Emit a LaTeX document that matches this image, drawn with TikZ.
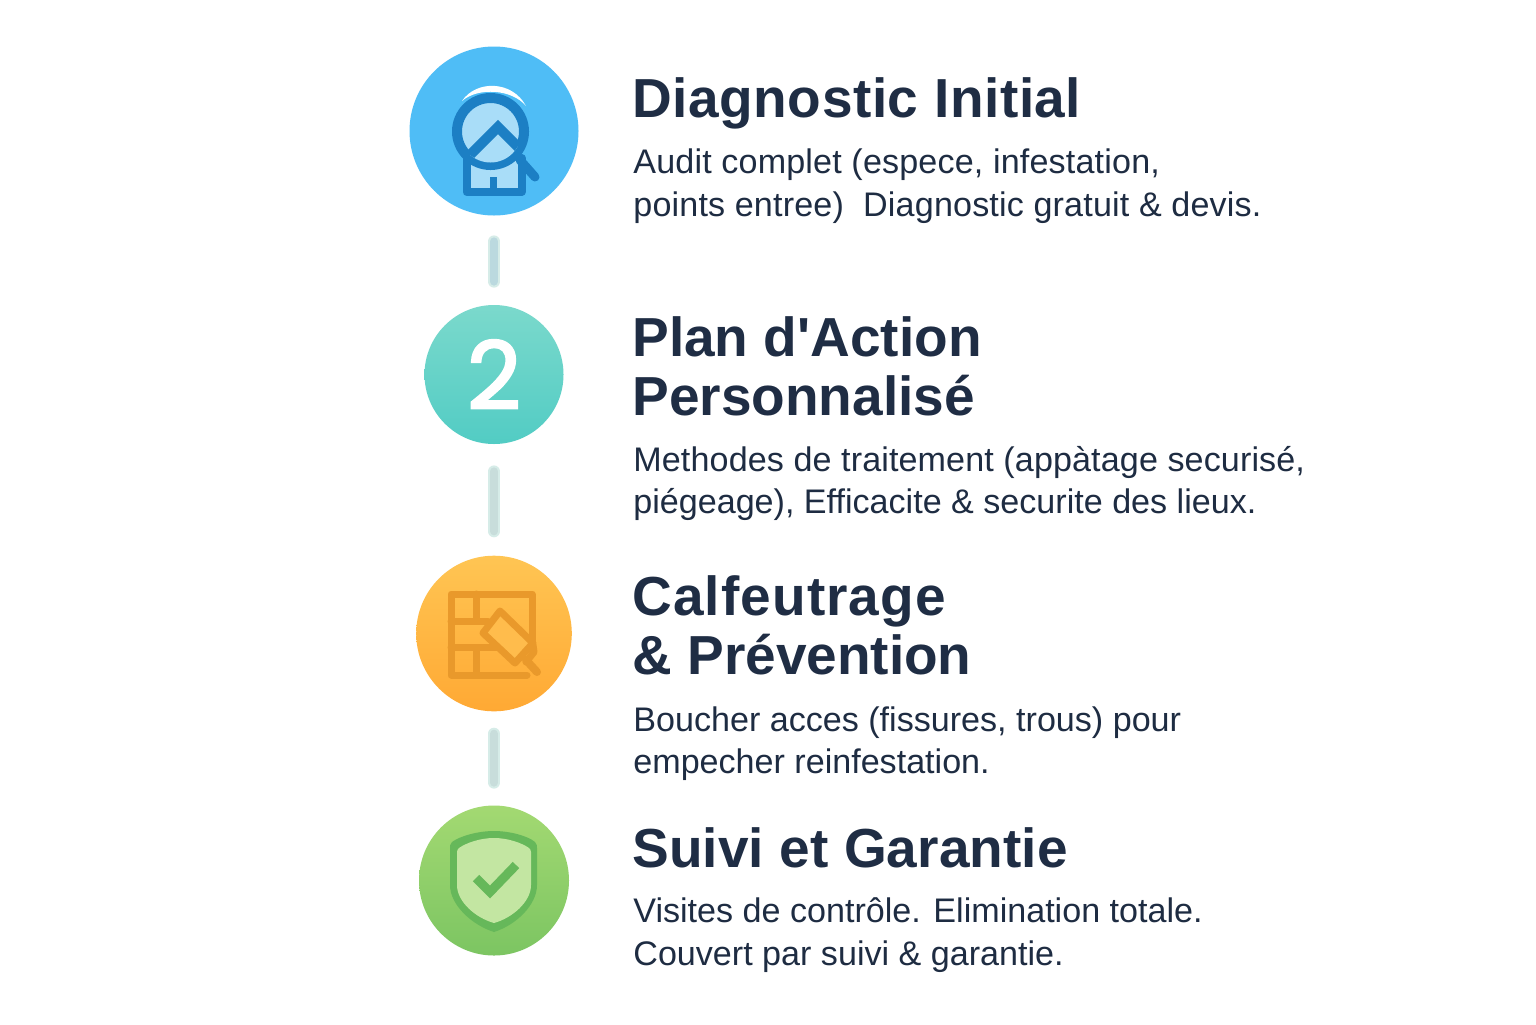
\documentclass[tikz,border=0pt]{standalone}
\usepackage{fontspec}
\setmainfont[Ligatures=TeXOff]{Liberation Sans}
\newfontfamily\numfont[FakeBold=2.4]{Poppins}
\newcommand\spaced[2]{{\addfontfeature{LetterSpace=#1}#2}}
\definecolor{ink}{HTML}{1F2D44}
\definecolor{inkb}{HTML}{1E2C42}
\definecolor{blued}{HTML}{1C7FC4}
\definecolor{bluel}{HTML}{A9DDF8}
\definecolor{bluec}{HTML}{4FBDF6}
\definecolor{tealt}{HTML}{7BD9CC}
\definecolor{tealb}{HTML}{52CCC4}
\definecolor{orgt}{HTML}{FFC553}
\definecolor{orgb}{HTML}{FFA934}
\definecolor{orged}{HTML}{E9992B}
\definecolor{orgl}{HTML}{FFBC4C}
\definecolor{grnt}{HTML}{A3D972}
\definecolor{grnb}{HTML}{7CC562}
\definecolor{grnd}{HTML}{66B85A}
\definecolor{grnl}{HTML}{C3E6A2}
\definecolor{linkina}{HTML}{BBD9DF}
\definecolor{linkinb}{HTML}{C8DDDB}
\definecolor{linkedge}{HTML}{D6ECE8}
\tikzset{
  stepdisc/.style={circle,inner sep=0pt,minimum size=#1},
  titletext/.style={anchor=north west,align=left,inner sep=0pt,text=ink,font=\fontsize{27.5}{29.5}\selectfont\bfseries},
  desctext/.style={anchor=north west,align=left,inner sep=0pt,text=inkb,font=\fontsize{17.05}{21.5}\selectfont},
  linkpill/.style={draw=linkedge,double=#1,double distance=4pt,line width=1pt,line cap=round},
  iconline/.style={line width=#1,line join=round,line cap=round},
}
\begin{document}
\begin{tikzpicture}[x=0.5pt,y=-0.5pt]
\useasboundingbox (0,0) rectangle (1536,1024);
\fill[white] (0,0) rectangle (1536,1024);
% discs
\node[stepdisc=84.5pt,fill=bluec] (c1) at (494,131) {};
\node[stepdisc=69.5pt,top color=tealt,bottom color=tealb] (c2) at (494,374.5)
  {\numfont\fontsize{47}{47}\selectfont\textcolor{white}{2}};
\node[stepdisc=77.8pt,top color=orgt,bottom color=orgb] (c3) at (494,633.5) {};
\node[stepdisc=75pt,top color=grnt,bottom color=grnb] (c4) at (494,880.5) {};
% connectors
\draw[linkpill=linkina,shorten <=12.75pt,shorten >=11.5pt] (c1.south) -- (c2.north);
\draw[linkpill=linkinb,shorten <=13.5pt,shorten >=12pt] (c2.south) -- (c3.north);
\draw[linkpill=linkinb,shorten <=11pt,shorten >=11.25pt] (c3.south) -- (c4.north);
% icon 1: house under magnifier
\fill[white] (462,101) .. controls (476,80) and (512,80) .. (526,106)
  .. controls (512,89) and (478,87) .. (462,101) -- cycle;
\fill[bluel] (466,158) rectangle (522,192);
\draw[blued,iconline=4pt] (466.5,158) -- (466.5,192) -- (521.5,192) -- (521.5,158);
\fill[blued] (490,177) rectangle (497,190);
\filldraw[fill=bluel,draw=blued,iconline=5pt] (490.5,131.5) circle[radius=33.5];
\begin{scope}
\clip (490.5,131.5) circle[radius=31];
\fill[bluel] (470,155) -- (498,127) -- (522,151) -- (522,170) -- (470,170) -- cycle;
\draw[blued,line width=5pt,line join=miter] (470,155) -- (498,127) -- (522,151);
\end{scope}
\draw[blued,iconline=4.5pt] (520,160) -- (535,177);
% icon 3: brick wall and trowel
\draw[orged,iconline=3.5pt] (527,675) -- (451,675) -- (451,594) -- (532,594) -- (532,640);
\draw[orged,iconline=3.5pt] (476,594) -- (476,621);
\draw[orged,iconline=3.5pt] (476,650) -- (476,675);
\draw[orged,iconline=3.5pt] (451,621) -- (488,621);
\draw[orged,iconline=3.5pt] (451,647) -- (497,647);
\filldraw[fill=orgl,draw=orged,iconline=3.5pt] (500,611) -- (533,643) -- (515,663) -- (483,633) -- cycle;
\draw[orged,iconline=3.5pt] (533,645) -- (534,652) -- (526,662);
\draw[orged,iconline=4pt] (526,660) -- (537,672);
% icon 4: shield with check
\fill[grnd] (494,831) .. controls (478,831) and (460,836) .. (452,842) .. controls (450,844) and (450,846) .. (450,848)
  -- (450,885) .. controls (450,905) and (472,925) .. (494,932)
  .. controls (516,925) and (537,905) .. (537,885) -- (537,848) .. controls (537,846) and (537,844) .. (535,842)
  .. controls (528,836) and (510,831) .. (494,831) -- cycle;
\fill[grnl] (494,838) .. controls (480,838) and (466,843) .. (459,848) .. controls (458,849) and (457,850) .. (457,852)
  -- (457,885) .. controls (457,902) and (476,918) .. (494,923)
  .. controls (512,918) and (531,902) .. (531,885) -- (531,852) .. controls (531,850) and (530,849) .. (529,848)
  .. controls (522,843) and (508,838) .. (494,838) -- cycle;
\draw[grnd,line width=4.5pt,line join=miter] (476,878) -- (490,892) -- (516,865);
% text
\node[titletext] (t1) at (632,77) {\spaced{1}{Diagnostic Initial}};
\node[desctext] (d1) at (633,148) {\spaced{0.5}{Audit complet (espece, infestation,}\\\spaced{0.5}{points entree)\ \ Diagnostic gratuit \&\ devis.}};
\node[titletext] (t2) at (632,316) {Plan d'Action\\Personnalisé};
\node[desctext] (d2) at (633,445.5) {\spaced{0.35}{Methodes de traitement (appàtage securisé,}\\[-0.5pt]piégeage), Efficacite \& securite des lieux.};
\node[titletext] (t3) at (632,575) {\spaced{2}{Calfeutrage}\\\& Prévention};
\node[desctext] (d3) at (633,706) {Boucher acces (fissures, trous) pour\\[-0.5pt]empecher reinfestation.};
\node[titletext] (t4) at (632,827) {\spaced{0.2}{Suivi et Garantie}};
\node[desctext] (d4) at (633,897) {Visites de contrôle. Elimination totale.\\Couvert par suivi \& garantie.};
\end{tikzpicture}
\end{document}
